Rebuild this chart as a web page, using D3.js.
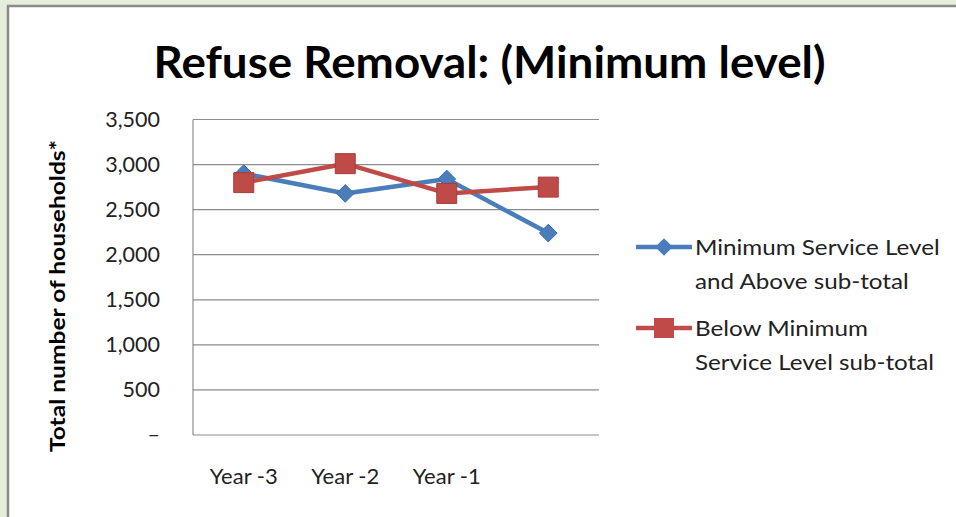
<!DOCTYPE html>
<html><head><meta charset="utf-8">
<script src="https://cdn.jsdelivr.net/npm/d3@7"></script>
<style>html,body{margin:0;padding:0;background:#e6eedb;}svg{display:block;}</style>
</head><body>
<svg id="c" width="956" height="517"></svg>
<script>
const categories = ["Year -3", "Year -2", "Year -1", ""];
const seriesNames = ["Minimum Service Level and Above sub-total", "Below Minimum Service Level sub-total"];
const aboveValues = [2900, 2680, 2840, 2240];
const belowValues = [2800, 3010, 2680, 2750];
const yTicks = [0, 500, 1000, 1500, 2000, 2500, 3000, 3500];
const yTickLabels = ["–", "500", "1,000", "1,500", "2,000", "2,500", "3,000", "3,500"];
const title = "Refuse Removal: (Minimum level)";
const yTitle = "Total number of households*";
const legendLines = [["Minimum Service Level", "and Above sub-total"], ["Below Minimum", "Service Level sub-total"]];

const svg = d3.select("#c");
const font = "Lato, 'Open Sans', sans-serif";
// chart area
svg.append("rect").attr("x", 8).attr("y", 6).attr("width", 960).attr("height", 520)
  .attr("fill", "#fff").attr("stroke", "#8a8a8a").attr("stroke-width", 2.5);

const m = {l: 193, r: 599, t: 119.5, b: 435};
const x = d3.scaleBand().domain(categories).range([m.l, m.r]);
const y = d3.scaleLinear().domain([0, 3500]).range([m.b, m.t]);

// gridlines
svg.append("g").selectAll("line").data(yTicks).join("line")
  .attr("x1", m.l).attr("x2", m.r).attr("y1", d => y(d)).attr("y2", d => y(d))
  .attr("stroke", "#8c8c8c").attr("stroke-width", 1.2);
svg.append("line").attr("x1", m.l).attr("x2", m.l).attr("y1", m.t).attr("y2", m.b)
  .attr("stroke", "#8c8c8c").attr("stroke-width", 1.2);

// y axis labels
const yAxis = d3.axisLeft(y).tickValues(yTicks).tickSize(0).tickPadding(0)
  .tickFormat((d, i) => yTickLabels[i]);
const ya = svg.append("g").attr("transform", `translate(${m.l - 33},0)`).call(yAxis);
ya.select(".domain").remove();
ya.selectAll("text").attr("font-family", font).attr("font-size", 21.5).attr("fill", "#222");

// x axis labels
const xAxis = d3.axisBottom(x).tickSize(0).tickPadding(0);
const xa = svg.append("g").attr("transform", `translate(0,${m.b + 33})`).call(xAxis);
xa.select(".domain").remove();
xa.selectAll("text").attr("font-family", font).attr("font-size", 22).attr("fill", "#222");

// title
svg.append("text").attr("x", 489.5).attr("y", 78).attr("text-anchor", "middle")
  .attr("font-family", font).attr("font-weight", "bold").attr("font-size", 44)
  .attr("textLength", 672).attr("lengthAdjust", "spacingAndGlyphs").attr("fill", "#000").text(title);

// y title
svg.append("text").attr("transform", "translate(65,296) rotate(-90)").attr("text-anchor", "middle")
  .attr("font-family", font).attr("font-weight", "bold").attr("font-size", 20)
  .attr("textLength", 312).attr("lengthAdjust", "spacingAndGlyphs").attr("fill", "#000").text(yTitle);

const colors = ["#4a7ebb", "#be4b48"];
const data = [aboveValues, belowValues];
const line = d3.line().x((d, i) => x(categories[i]) + x.bandwidth() / 2).y(d => y(d));
const diamond = d3.symbol().type(d3.symbolDiamond2).size(200);
const square = d3.symbol().type(d3.symbolSquare).size(400);

data.forEach((vals, si) => {
  svg.append("path").attr("d", line(vals)).attr("fill", "none")
    .attr("stroke", colors[si]).attr("stroke-width", 4.5).attr("stroke-linejoin", "round");
});
data.forEach((vals, si) => {
  svg.append("g").selectAll("path").data(vals).join("path")
    .attr("transform", (d, i) => `translate(${x(categories[i]) + x.bandwidth() / 2},${y(d)})`)
    .attr("d", si === 0 ? diamond : square)
    .attr("fill", colors[si]).attr("stroke", si === 0 ? "#3a6ea8" : "#a83c3a").attr("stroke-width", 1);
});

// legend
const legY = [247, 328];
seriesNames.forEach((name, si) => {
  const g = svg.append("g");
  g.append("line").attr("x1", 636).attr("x2", 692).attr("y1", legY[si]).attr("y2", legY[si])
    .attr("stroke", colors[si]).attr("stroke-width", 4.5);
  g.append("path").attr("transform", `translate(664,${legY[si]})`)
    .attr("d", si === 0 ? diamond : square).attr("fill", colors[si]);
  legendLines[si].forEach((t, li) => {
    g.append("text").attr("transform", `translate(695,${legY[si] + 8 + li * 34}) scale(1.1,1)`)
      .attr("font-family", font).attr("font-size", 22).attr("fill", "#222").text(t);
  });
});
</script>
</body></html>
